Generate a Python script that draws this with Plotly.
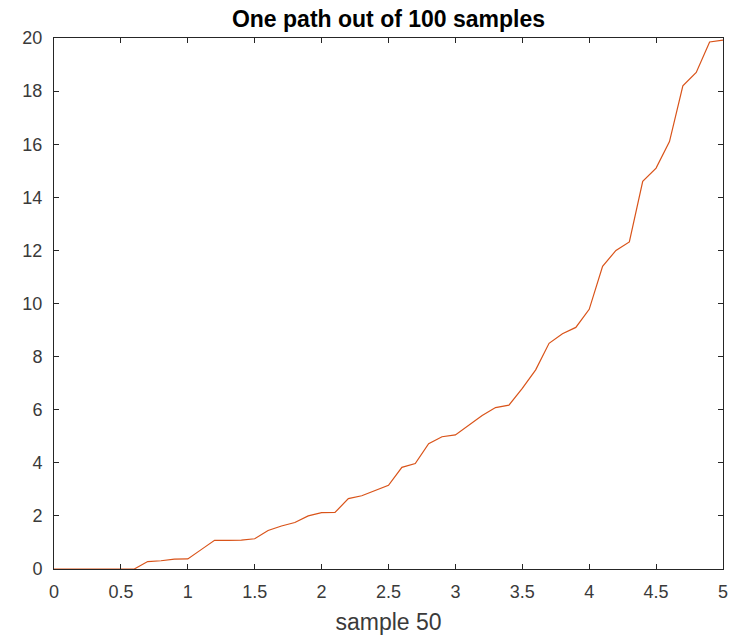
import plotly.graph_objects as go

# Sample path values on a 0.1 time grid
t = [round(0.1 * i, 1) for i in range(51)]
path = [0, 0, 0, 0, 0, 0, 0, 0.28, 0.31, 0.37,
        0.38, 0.73, 1.08, 1.08, 1.09, 1.14, 1.45, 1.62, 1.75, 2.0,
        2.12, 2.13, 2.65, 2.76, 2.97, 3.15, 3.83, 3.97, 4.72, 4.98,
        5.05, 5.42, 5.78, 6.08, 6.17, 6.8, 7.5, 8.5, 8.86, 9.1,
        9.78, 11.4, 12.0, 12.32, 14.6, 15.1, 16.1, 18.2, 18.7, 19.85,
        19.92]

x_ticks = [0, 0.5, 1, 1.5, 2, 2.5, 3, 3.5, 4, 4.5, 5]
x_labels = ["0", "0.5", "1", "1.5", "2", "2.5", "3", "3.5", "4", "4.5", "5"]
y_ticks = list(range(0, 21, 2))

FONT = "Liberation Sans, Arial, Helvetica, sans-serif"
AXIS = "#262626"
LABEL = "#3a3a3a"

fig = go.Figure()
fig.add_trace(go.Scatter(
    x=t, y=path, mode="lines",
    line=dict(color="#D95319", width=1.2),
    showlegend=False, hoverinfo="x+y",
))

axis_common = dict(
    showline=True, linecolor=AXIS, linewidth=1, mirror="ticks",
    ticks="inside", ticklen=5, tickwidth=1, tickcolor=AXIS,
    showgrid=False, zeroline=False, automargin=False,
    tickfont=dict(family=FONT, size=18, color=LABEL),
)

fig.update_layout(
    width=741, height=637,
    margin=dict(l=54, r=18, t=38, b=68),
    paper_bgcolor="white", plot_bgcolor="white",
    title=dict(
        text="<b>One path out of 100 samples</b>",
        font=dict(family=FONT, size=23, color="black"),
        x=0.5, xref="paper", xanchor="center",
        y=1 - 19 / 637, yref="container", yanchor="middle",
    ),
    xaxis=dict(
        range=[0, 5], tickvals=x_ticks, ticktext=x_labels,
        ticklabelstandoff=6,
        title=dict(text="sample 50", standoff=13,
                   font=dict(family=FONT, size=23, color=LABEL)),
        **axis_common,
    ),
    yaxis=dict(
        range=[0, 20], tickvals=y_ticks,
        ticklabelstandoff=7,
        **axis_common,
    ),
)

fig.write_html("out.html")
